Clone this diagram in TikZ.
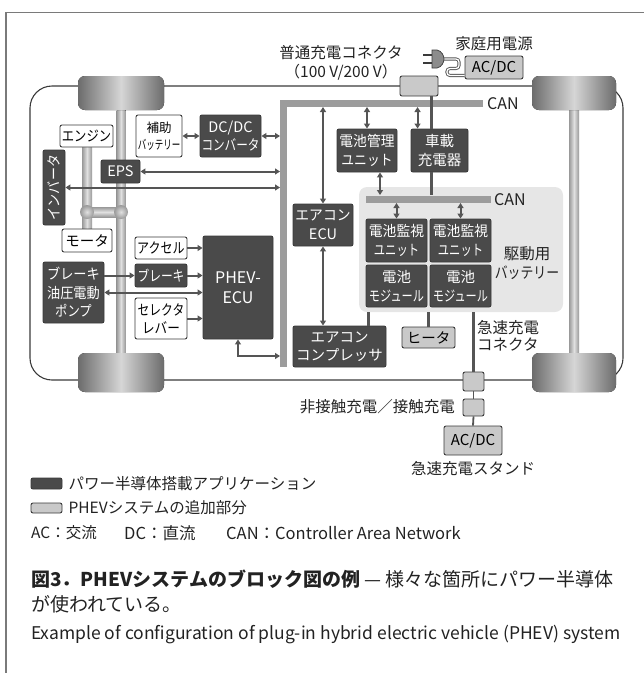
\documentclass[tikz,border=0pt]{standalone}
\usepackage{fontspec}
\usepackage{graphicx}
\setmainfont{Noto Sans CJK JP}
\usetikzlibrary{arrows.meta, calc, positioning}

\definecolor{boxdark}{HTML}{4A4A4A}
\definecolor{boxlight}{HTML}{C9C9C9}
\definecolor{edgegray}{HTML}{3A3A3A}
\definecolor{wiregray}{HTML}{555555}
\definecolor{cangray}{HTML}{9C9C9C}
\definecolor{packgray}{HTML}{E6E6E6}
\definecolor{tyredark}{HTML}{6C6C6C}
\definecolor{tyrelight}{HTML}{D6D6D6}
\definecolor{shaftdark}{HTML}{999999}
\definecolor{shaftlight}{HTML}{E0E0E0}
\definecolor{framegray}{HTML}{7A7A7A}
\definecolor{plugfill}{HTML}{8C8C8C}
\definecolor{textgray}{HTML}{222222}

\newcommand{\boxfont}{\fontsize{14.5}{18.5}\selectfont}
\newcommand{\labfont}{\fontsize{15.5}{19}\selectfont}
\newcommand{\sx}[2]{\scalebox{#1}[1]{#2}} % squeeze a line sideways

\tikzset{
    >={Triangle[length=5pt,width=6pt]}, % small filled heads
    blk/.style={draw=edgegray, line width=0.9pt, rounded corners=2pt, align=center, inner sep=0pt, font=\boxfont}, % every unit box
    darkblk/.style={blk, fill=boxdark, text=white}, % power semiconductor parts
    whiteblk/.style={blk, fill=white},
    lightblk/.style={blk, fill=boxlight}, % PHEV add-ons
    sig/.style={draw=wiregray, line width=2pt, <->},
    sigone/.style={draw=wiregray, line width=2pt, ->},
    power/.style={draw=wiregray, line width=2.4pt},
    canbus/.style={draw=cangray, line width=7pt},
    tyre/.style={rounded corners=7pt, left color=tyredark, right color=tyredark, middle color=tyrelight},
    shaft/.style={left color=shaftdark, right color=shaftdark, middle color=shaftlight},
    lab/.style={font=\labfont, text=textgray, align=center, inner sep=0pt},
    legtext/.style={font=\fontsize{15.5}{18}\selectfont, text=textgray, inner sep=0pt, anchor=west},
}

\begin{document}
\begin{tikzpicture}[x=1pt, y=-1pt]
\useasboundingbox (0,0) rectangle (644,673);

% frame
\draw[framegray, line width=1.2pt] (6,673) -- (6,12.5) -- (644,12.5);

% car body and battery pack
\draw[edgegray, line width=1.1pt, rounded corners=22pt] (30,86) rectangle (623,380);
\node[fill=packgray, rounded corners=8pt, minimum width=204, minimum height=125, inner sep=0pt] (pack) at (461,249.5) {};

% axles, engine shaft, gear
\fill[shaft] (116.5,110) rectangle (125.5,353);
\fill[shaft] (569,110) rectangle (579,353);
\fill[shaft] (82,147) rectangle (92,229);
\fill[top color=shaftdark, bottom color=shaftdark, middle color=shaftlight] (87,207) rectangle (121,217);
\shade[inner color=shaftlight, outer color=shaftdark] (87,212) circle (7);
\shade[inner color=shaftlight, outer color=shaftdark] (121,212) circle (7);

% wheels
\fill[tyre] (78,76) rectangle (164,110);
\fill[tyre] (532,76) rectangle (616,110);
\fill[tyre] (78,353) rectangle (164,392);
\fill[tyre] (532,353) rectangle (616,392);

% CAN bus
\draw[canbus] (483,103.5) -| (283.5,367);
\draw[canbus] (366,199) -- (491,199);
\coordinate (canLo) at (283.5,107);
\coordinate (barL) at (280,103.5);
\coordinate (icanHi) at (366,195);
\coordinate (icanLo) at (366,203);
\coordinate (ecuBar) at (280,356);
\node[anchor=west, inner sep=0pt, text=textgray, font=\fontsize{16}{16}\selectfont] (canA) at (487,104) {CAN};
\node[anchor=west, inner sep=0pt, text=textgray, font=\fontsize{16}{16}\selectfont] (canB) at (494,199.5) {CAN};

% units
\node[whiteblk, minimum width=53, minimum height=22] (eng) at (86.5,136) {\sx{0.85}{エンジン}};
\node[whiteblk, minimum width=46, minimum height=42, font=\fontsize{12.5}{17}\selectfont] (aux) at (159,136) {補助\\\sx{0.68}{バッテリー}};
\node[darkblk, minimum width=61, minimum height=42] (dcdc) at (230.5,136) {DC/DC\\\sx{0.8}{コンバータ}};
\node[darkblk, minimum width=39, minimum height=23] (eps) at (120.5,171.5) {EPS};
\node[darkblk, minimum width=22, minimum height=75] (inv) at (54,187.5) {\rotatebox{90}{\sx{0.9}{インバータ}}};
\node[whiteblk, minimum width=50, minimum height=23] (mot) at (87,240.5) {モータ};
\node[whiteblk, minimum width=52, minimum height=22] (acc) at (161,248) {\sx{0.83}{アクセル}};
\node[darkblk, minimum width=52, minimum height=23] (brk) at (161,275.5) {\sx{0.81}{ブレーキ}};
\node[whiteblk, minimum width=52, minimum height=41] (sel) at (161,318.5) {\sx{0.81}{セレクタ}\\\sx{0.87}{レバー}};
\node[darkblk, minimum width=61, minimum height=61] (pump) at (73.5,292.5) {\sx{0.91}{ブレーキ}\\\sx{0.91}{油圧電動}\\\sx{0.85}{ポンプ}};
\node[darkblk, minimum width=70, minimum height=103, font=\fontsize{16}{20}\selectfont] (ecu) at (238,287.5) {PHEV-\\ECU};
\node[darkblk, minimum width=60, minimum height=43] (bmu) at (367,150.5) {\sx{0.95}{電池管理}\\\sx{0.88}{ユニット}};
\node[darkblk, minimum width=57, minimum height=43] (obc) at (439.5,150.5) {車載\\充電器};
\node[darkblk, minimum width=60, minimum height=42] (acecu) at (323,225) {\sx{0.95}{エアコン}\\ECU};
\node[darkblk, minimum width=93, minimum height=41] (acomp) at (339.5,346.5) {エアコン\\コンプレッサ};
\node[darkblk, minimum width=61, minimum height=43] (cmu1) at (396.5,240.5) {\sx{0.95}{電池監視}\\\sx{0.78}{ユニット}};
\node[darkblk, minimum width=61, minimum height=43] (cmu2) at (460.5,240.5) {\sx{0.95}{電池監視}\\\sx{0.78}{ユニット}};
\node[darkblk, minimum width=61, minimum height=42] (mod1) at (396.5,286) {電池\\\sx{0.77}{モジュール}};
\node[darkblk, minimum width=61, minimum height=42] (mod2) at (460.5,286) {電池\\\sx{0.77}{モジュール}};
\node[lab] (packlab) at (527,263.5) {駆動用\\\sx{0.83}{バッテリー}};

% charging side
\node[lightblk, minimum width=53, minimum height=21] (heat) at (428.5,337.5) {ヒータ};
\node[lightblk, minimum width=38, minimum height=20] (nconn) at (419,86) {};
\node[lightblk, minimum width=58, minimum height=23, font=\fontsize{15}{15}\selectfont] (homeac) at (494,67.5) {AC/DC};
\node[lightblk, minimum width=21, minimum height=19] (qconn) at (473.5,381.5) {};
\node[lightblk, minimum width=21, minimum height=17] (wpt) at (473.5,407.5) {};
\node[lightblk, minimum width=58, minimum height=29, font=\fontsize{15}{15}\selectfont] (stand) at (473,440.5) {AC/DC};
\node[lab] (nconnlab) at (341,62.5) {普通充電コネクタ\\（100 V/200 V）};
\node[lab] (homelab) at (494,44) {家庭用電源};
\node[lab, anchor=west, align=left, font=\fontsize{15.5}{17}\selectfont] (qlab) at (477,335.5) {急速充電\\コネクタ};
\node[lab, anchor=east] (wptlab) at (455,407) {非接触充電／接触充電};
\node[lab] (standlab) at (473,469) {急速充電スタンド};

% plug and cord
\draw[wiregray, line width=0.9pt, double=white, double distance=1.3pt, rounded corners=3pt] (443,59) -| (459,68.5) -| (447,75.5) -- (homeac.west |- 0,75.5);
\draw[edgegray, fill=plugfill, line width=0.7pt] (432,50) -- (437,50) .. controls (442,51) and (444,56) .. (444,59) .. controls (444,62) and (442,67) .. (437,68) -- (432,68) -- cycle;
\draw[edgegray, line width=2pt] (423,55) -- (432,55);
\draw[edgegray, line width=2pt] (423,63) -- (432,63);

% power lines
\coordinate (obcIn) at ($(obc.north west)+(7,0)$);
\coordinate (obcPwr) at ($(obc.north west)+(21,0)$);
\coordinate (bmuOut) at ($(bmu.south)+(13,0)$);
\coordinate (compPwr) at ($(acomp.north east)+(-18,0)$);
\draw[power] (obcPwr |- nconn.south) -- (obcPwr);
\draw[power] (obcPwr |- obc.south) -- (obcPwr |- icanHi);
\draw[power] (compPwr) -- (compPwr |- pack.south);
\draw[power] (heat.north) -- (heat.north |- pack.south);
\draw[power] (qconn.north) -- (qconn.north |- pack.south);
\draw[power, line width=1.8pt] (qconn.south) -- (wpt.north);
\draw[power, line width=1.8pt] (wpt.south) -- (stand.north);

% signals
\draw[sig] (aux.east) -- (dcdc.west);
\draw[sig] (dcdc.east) -- (dcdc.east -| barL);
\draw[sig] (eps.east) -- (eps.east -| barL);
\draw[sig] (inv.east) -- (inv.east -| barL);
\draw[sigone] (pump.east |- brk.west) -- (brk.west);
\draw[sigone] (brk.east) -- (brk.east -| ecu.west);
\draw[sigone] (acc.east) -- (acc.east -| ecu.west);
\draw[sigone] (sel.east) -- (sel.east -| ecu.west);
\draw[sig] (pump.east) -- (pump.east -| ecu.west);
\draw[sig] (ecu.south) |- (ecuBar);
\draw[sig] (bmu.north |- canLo) -- (bmu.north);
\draw[sig] (obcIn |- canLo) -- (obcIn);
\draw[sig] (acecu.north |- canLo) -- (acecu.north);
\draw[sig] (acecu.south) -- (acecu.south |- acomp.north);
\draw[sig] (bmuOut) -- (bmuOut |- icanHi);
\draw[sig] (cmu1.north |- icanLo) -- (cmu1.north);
\draw[sig] (cmu2.north |- icanLo) -- (cmu2.north);

% legend
\node[darkblk, minimum width=31, minimum height=11] (keyA) at (46.5,483.5) {};
\node[legtext, right=6pt of keyA] (keyAtxt) {パワー半導体搭載アプリケーション};
\node[lightblk, minimum width=31, minimum height=10] (keyB) at (46.5,508) {};
\node[legtext, right=6pt of keyB] (keyBtxt) {PHEVシステムの追加部分};
\node[legtext] (abAC) at (31,533) {AC：交流};
\node[legtext, font=\fontsize{16.5}{18}\selectfont] (abDC) at (124,533) {DC：直流};
\node[legtext, font=\fontsize{16.5}{18}\selectfont] (abCAN) at (226,533) {CAN：Controller Area Network};

% caption
\node[legtext, font=\fontsize{19}{22}\selectfont] (capA) at (31,579) {\textbf{図3．PHEVシステムのブロック図の例} — 様々な箇所にパワー半導体};
\node[legtext, font=\fontsize{19}{22}\selectfont] (capB) at (31,604) {が使われている。};
\node[legtext, font=\fontsize{17.5}{20}\selectfont] (capC) at (31,635) {Example of configuration of plug-in hybrid electric vehicle (PHEV) system};
\end{tikzpicture}
\end{document}
